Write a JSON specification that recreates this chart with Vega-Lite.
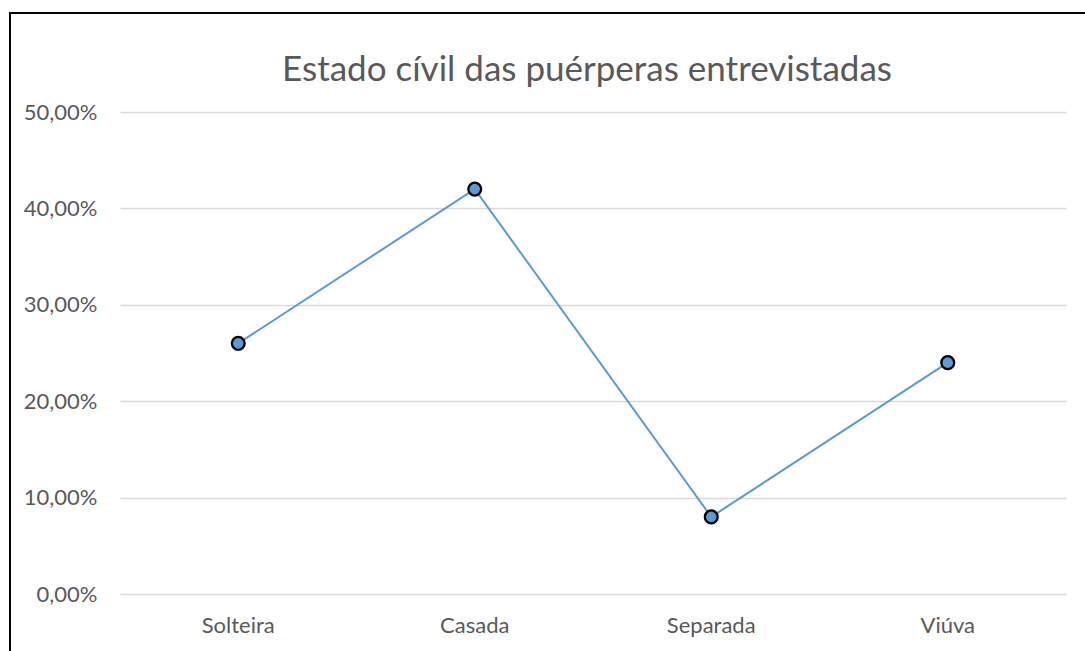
{
  "$schema": "https://vega.github.io/schema/vega-lite/v6.json",
  "autosize": "none",
  "padding": {"left": 10, "top": 13, "right": 0, "bottom": 0},
  "width": 1154,
  "height": 642,
  "background": "white",
  "config": {
    "view": {"stroke": "#000000", "strokeWidth": 2},
    "font": "Lato"
  },
  "title": {
    "text": "Estado cívil das puérperas entrevistadas",
    "orient": "top",
    "anchor": "middle",
    "frame": "group",
    "baseline": "alphabetic",
    "offset": -103,
    "font": "Lato",
    "fontSize": 35,
    "fontWeight": "normal",
    "color": "#595959"
  },
  "data": {
    "values": [
      {"estado": "Solteira", "pct": 0.26},
      {"estado": "Casada", "pct": 0.42},
      {"estado": "Separada", "pct": 0.08},
      {"estado": "Viúva", "pct": 0.24}
    ]
  },
  "encoding": {
    "x": {
      "field": "estado",
      "type": "nominal",
      "sort": ["Solteira", "Casada", "Separada", "Viúva"],
      "scale": {"type": "band", "paddingInner": 0, "paddingOuter": 0, "range": [110, 1056]},
      "axis": {
        "title": null,
        "orient": "bottom",
        "domain": false,
        "ticks": false,
        "tickSize": 0,
        "labelAngle": 0,
        "labelBaseline": "alphabetic",
        "labelPadding": -23,
        "labelFont": "Lato",
        "labelFontSize": 22,
        "labelColor": "#595959"
      }
    },
    "y": {
      "field": "pct",
      "type": "quantitative",
      "scale": {"domain": [0, 0.5], "range": [581, 99], "nice": false, "zero": true},
      "axis": {
        "title": null,
        "orient": "left",
        "values": [0, 0.1, 0.2, 0.3, 0.4, 0.5],
        "labelExpr": "replace(format(datum.value, '.2%'), '.', ',')",
        "domain": false,
        "ticks": false,
        "tickSize": 0,
        "labelPadding": -87,
        "labelFont": "Lato",
        "labelFontSize": 22,
        "labelColor": "#595959",
        "grid": true,
        "gridColor": "#d9d9d9",
        "gridWidth": 1.3
      }
    }
  },
  "layer": [
    {"mark": {"type": "line", "color": "#5b9bd5", "strokeWidth": 2}},
    {"mark": {"type": "point", "filled": true, "fill": "#5b9bd5", "stroke": "#000000", "strokeWidth": 2.3, "size": 165, "opacity": 1}}
  ]
}
